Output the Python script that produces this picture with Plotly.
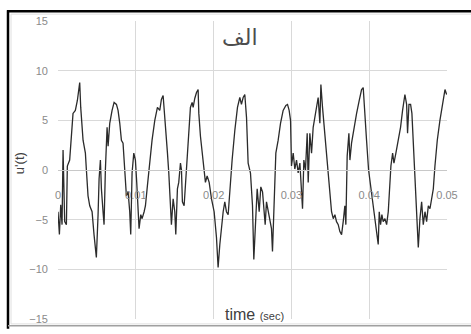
import plotly.graph_objects as go

# time in milliseconds, converted to seconds below
time_ms = [0.00, 0.18, 0.35, 0.52, 0.65, 0.86, 1.08, 1.20, 1.50, 1.93, 2.23, 2.49, 2.79, 2.92, 3.22, 3.52, 3.65, 3.86, 4.08, 4.38,
           4.63, 4.93, 5.15, 5.28, 5.45, 5.58, 5.79, 5.92, 6.09, 6.31, 6.44, 6.65, 6.95, 7.21, 7.51, 7.72, 7.94, 8.15, 8.36, 8.49,
           8.66, 8.79, 9.01, 9.22, 9.35, 9.52, 9.74, 9.95, 10.12, 10.29, 10.42, 10.64, 10.81, 11.07, 11.24, 11.49, 11.79, 12.09, 12.44, 12.78,
           13.08, 13.29, 13.51, 13.64, 13.85, 14.07, 14.24, 14.45, 14.58, 14.80, 15.01, 15.14, 15.35, 15.52, 15.74, 15.87, 15.99, 16.21, 16.38, 16.64,
           16.81, 17.02, 17.24, 17.37, 17.58, 17.80, 18.01, 18.10, 18.31, 18.53, 18.74, 18.95, 19.17, 19.43, 19.73, 20.07, 20.37, 20.58, 20.80, 21.01,
           21.23, 21.44, 21.65, 21.87, 22.08, 22.38, 22.73, 23.07, 23.37, 23.58, 23.80, 24.01, 24.23, 24.44, 24.74, 25.00, 25.17,
           25.43, 25.60, 25.86, 26.07, 26.29, 26.46, 26.63, 26.80, 27.02, 27.23, 27.44, 27.57, 27.74, 28.00, 28.30, 28.60, 28.94, 29.29, 29.50, 29.71,
           29.89, 30.01, 30.23, 30.44, 30.66, 30.87, 31.09, 31.30, 31.43, 31.60, 31.81, 32.03, 32.16, 32.37, 32.59, 32.80, 33.01, 33.23, 33.44, 33.66,
           33.79, 34.00, 34.17, 34.43, 34.73, 34.95, 35.16, 35.38, 35.59, 35.80, 36.02, 36.23, 36.45, 36.66, 36.87, 37.00, 37.17, 37.39, 37.52, 37.73,
           38.03, 38.38, 38.72, 39.02, 39.23, 39.45, 39.66, 39.92, 40.18, 40.43, 40.60, 40.82, 40.99, 41.16, 41.29, 41.46, 41.63, 41.80, 42.02, 42.24,
           42.45, 42.66, 42.79, 43.01, 43.18, 43.43, 43.73, 44.03, 44.29, 44.59, 44.81, 44.93, 45.11, 45.32, 45.49, 45.66, 45.83, 46.01, 46.18, 46.31,
           46.52, 46.74, 46.95, 47.17, 47.38, 47.60, 47.81, 48.02, 48.24, 48.45, 48.75, 49.09, 49.44, 49.74, 49.95]

u_values = [-4.2, -6.5, -3.5, -5.5, 2.0, -5.2, -5.5, 0.4, 1.0, 5.7, 6.0, 7.0, 8.8, 6.3, 3.0, 1.7, 0.0, -2.6, -3.6, -4.2,
            -6.5, -8.8, -4.5, -0.9, 1.0, -1.9, -4.2, -5.5, 0.0, 4.3, 2.4, 4.7, 6.0, 6.8, 6.6, 6.0, 4.7, 3.0, 2.7, 0.7,
            -1.25, -2.6, -2.2, -4.2, -6.5, -0.3, 1.7, 1.0, -1.25, -4.2, -5.9, -4.5, -4.9, -4.2, -3.6, -1.6, 1.0, 3.0, 5.0, 6.3,
            6.0, 7.1, 7.5, 6.3, 3.7, 1.7, -0.3, -3.2, -5.5, -2.9, -4.2, -6.5, -1.9, -1.25, 0.7, 0.0, -3.2, -3.6, -1.6, 1.4,
            3.8, 6.3, 6.8, 6.3, 7.2, 7.8, 8.1, 5.7, 3.4, 1.7, 0.0, -1.25, -0.6, -1.25, -2.9, -4.2, -6.8, -9.8, -7.5, -5.5,
            -4.2, -3.2, -4.2, -4.5, -1.9, 1.0, 4.0, 6.3, 7.3, 6.6, 7.3, 7.6, 5.3, 0.7, -0.3, -3.6, -9.0,
            -3.6, -1.9, -4.2, -1.7, -2.2, -3.6, -5.5, -3.2, -4.2, -5.2, -5.9, -8.2, -3.6, 1.7, 3.0, 4.7, 6.0, 6.5, 6.6, 6.0,
            5.0, 0.4, 1.7, 0.1, 1.0, -0.3, 0.7, -2.2, -3.9, 1.0, 0.0, 3.7, -1.25, 3.7, 1.7, 4.3, 5.3, 6.6, 7.3, 4.7,
            8.6, 6.3, 4.7, 3.0, 0.0, -2.2, -4.2, -4.9, -4.5, -5.2, -5.5, -6.2, -6.5, -5.2, -3.6, -5.5, 1.4, 3.7, 1.0, 2.7,
            4.3, 5.7, 7.0, 8.1, 8.3, 6.0, 3.0, 0.0, -1.6, -2.9, -4.2, -5.2, -6.8, -7.5, -4.2, -5.5, -4.5, -5.2, -4.9, -5.5,
            -4.2, -1.6, 0.4, 1.7, 0.7, 1.7, 3.0, 4.3, 6.0, 7.6, 6.6, 3.7, 6.6, 6.6, 5.7, 3.0, -0.3, -3.6, -6.2, -7.8,
            -4.9, -3.2, -5.5, -4.2, -5.2, -3.6, -3.9, -2.9, -1.9, 0.4, 3.0, 5.0, 6.6, 8.1, 7.6]

x_ticks = [0, 0.01, 0.02, 0.03, 0.04, 0.05]
x_tick_labels = ["0", "0.01", "0.02", "0.03", "0.04", "0.05"]
y_ticks = [-15, -10, -5, 0, 5, 10, 15]

chart_title = "الف"
x_title = "time <span style='font-size:11px'>(sec)</span>"
y_title = "u'(t)"

time_s = [t / 1000.0 for t in time_ms]

W, H = 471, 334
L, R, T, B = 58, 24, 21, 9
PW, PH = W - L - R, H - T - B


def px(p):
    return (p - L) / PW


def py(p):
    return (H - B - p) / PH


fig = go.Figure()
fig.add_trace(go.Scatter(x=time_s, y=u_values, mode="lines",
                         line=dict(color="#2b2b2b", width=1.3), showlegend=False))

grid = "#d9d9d9"
font_family = "Liberation Sans, Arial, sans-serif"

fig.update_layout(
    width=W, height=H,
    margin=dict(l=L, r=R, t=T, b=B),
    paper_bgcolor="white", plot_bgcolor="white",
    font=dict(family=font_family, color="#808080", size=11),
    xaxis=dict(range=[0, 0.05], tickvals=x_ticks, ticktext=x_tick_labels,
               showgrid=True, gridcolor=grid, gridwidth=1, zeroline=False,
               showline=True, linecolor="#c8c8c8", linewidth=1,
               anchor="free", position=0.5, ticks="", ticklabelstandoff=15,
               tickfont=dict(size=11, color="#8a8a8a")),
    yaxis=dict(range=[-15, 15], tickvals=y_ticks, showgrid=True, gridcolor=grid,
               gridwidth=1, zeroline=False, ticks="", ticklabelstandoff=9,
               tickfont=dict(size=11, color="#8a8a8a")),
)

fig.add_annotation(text=chart_title, xref="paper", yref="paper", x=px(240), y=py(38),
                   showarrow=False, font=dict(size=22, color="#4d4d4d", family="DejaVu Sans, Noto Sans"),
                   xanchor="center", yanchor="middle")
fig.add_annotation(text=x_title, xref="paper", yref="paper", x=px(254), y=py(320),
                   showarrow=False, font=dict(size=16, color="#404040", family=font_family),
                   xanchor="center", yanchor="middle")
fig.add_annotation(text=y_title, xref="paper", yref="paper", x=px(19), y=py(166),
                   showarrow=False, textangle=-90, font=dict(size=13, color="#404040", family=font_family),
                   xanchor="center", yanchor="middle")

# chart frame
fig.add_shape(type="rect", xref="paper", yref="paper", x0=px(11), x1=px(472), y0=py(330), y1=py(14),
              line=dict(color="#e0e0e0", width=1))
fig.add_shape(type="line", xref="paper", yref="paper", x0=px(7), x1=px(472), y0=py(11), y1=py(11),
              line=dict(color="black", width=2.5))
fig.add_shape(type="line", xref="paper", yref="paper", x0=px(8), x1=px(8), y0=py(10), y1=py(335),
              line=dict(color="black", width=2.5))
fig.add_shape(type="line", xref="paper", yref="paper", x0=px(8), x1=px(472), y0=py(332), y1=py(332),
              line=dict(color="#a0a0a0", width=1.5))

fig.write_html("out.html")
